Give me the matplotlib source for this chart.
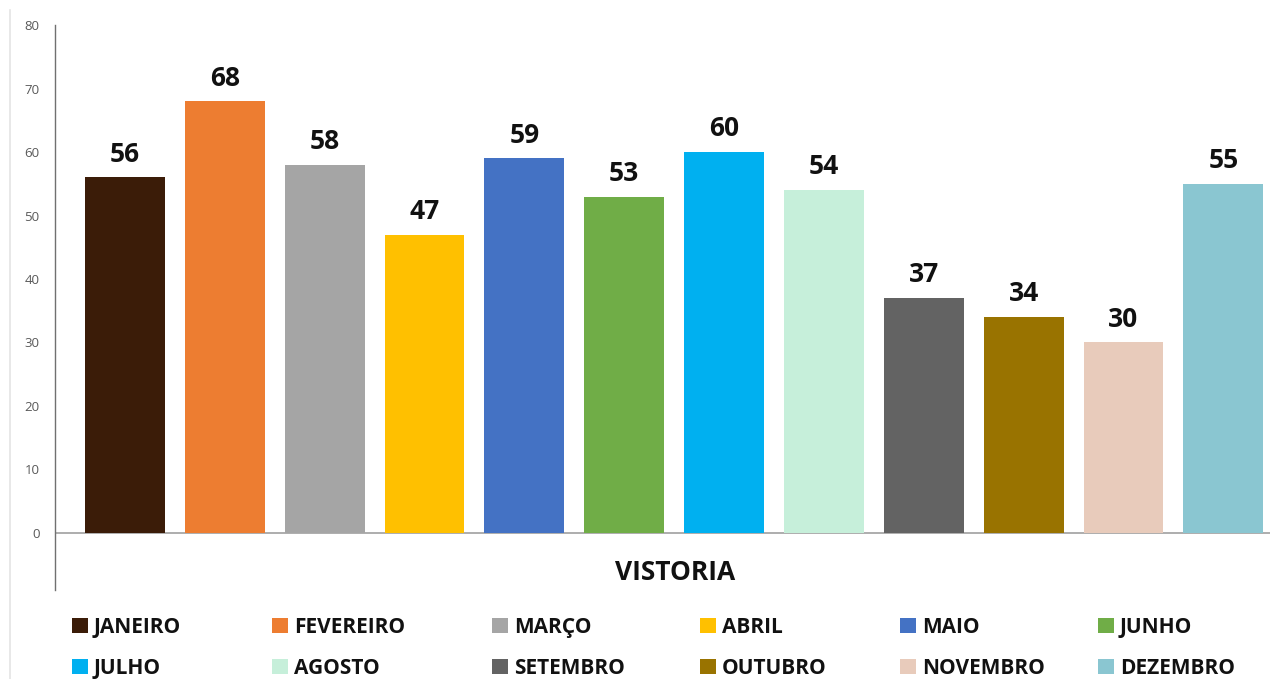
import matplotlib.pyplot as plt
from matplotlib.patches import Patch
from matplotlib.lines import Line2D

months = ["JANEIRO", "FEVEREIRO", "MARÇO", "ABRIL", "MAIO", "JUNHO",
          "JULHO", "AGOSTO", "SETEMBRO", "OUTUBRO", "NOVEMBRO", "DEZEMBRO"]
values = [56, 68, 58, 47, 59, 53, 60, 54, 37, 34, 30, 55]
colors = ["#3B1C08", "#ED7D31", "#A5A5A5", "#FFC000", "#4472C4", "#70AD47",
          "#00B0F0", "#C6EFDA", "#636363", "#997300", "#E8CBBB", "#8AC6D1"]
yticks = [0, 10, 20, 30, 40, 50, 60, 70, 80]

plt.rcParams["font.family"] = ["Open Sans", "DejaVu Sans"]

W, H = 1282, 679
fig = plt.figure(figsize=(W / 100, H / 100), dpi=100)
ax = fig.add_axes([0.0429, 0.131, 0.948, 0.832])

x = range(len(months))
bars = ax.bar(x, values, width=0.8, color=colors, zorder=2)
for b, v in zip(bars, values):
    ax.annotate(str(v), (b.get_x() + b.get_width() / 2, v),
                xytext=(0, 7), textcoords="offset points",
                ha="center", va="bottom", fontsize=19, fontweight="bold",
                color="#111111")

ax.axhline(0, color="#A0A0A0", linewidth=1.2, zorder=1)
ax.set_xlim(-0.7, 11.47)
ax.set_ylim(-9, 80)
ax.set_yticks(yticks)
ax.set_xticks([])
ax.tick_params(axis="y", length=0, pad=11, labelsize=9.5, labelcolor="#595959")
for s in ["top", "right", "bottom"]:
    ax.spines[s].set_visible(False)
ax.spines["left"].set_color("#707070")
ax.spines["left"].set_linewidth(1)

fig.text(0.527, 1 - 573 / H, "VISTORIA", ha="center", va="center",
         fontsize=19, fontweight="bold", color="#111111")

# faint frame line at the far left
fig.add_artist(Line2D([0.008, 0.008], [0.0, 0.985], transform=fig.transFigure,
                      color="#E4E4E4", linewidth=1.2))

# legend: two rows, six columns (one small legend per column)
col_left = [72, 272, 492, 700, 900, 1098]
for j in range(6):
    handles = [Patch(facecolor=colors[k], label=months[k]) for k in (j, j + 6)]
    leg = fig.legend(handles=handles, loc="upper left",
                     bbox_to_anchor=(col_left[j] / W, 1 - 617 / H),
                     frameon=False, handlelength=0.75, handleheight=0.75,
                     handletextpad=0.3, labelspacing=0.95, borderaxespad=0,
                     borderpad=0, prop={"size": 15, "weight": "bold"})
    for t in leg.get_texts():
        t.set_color("#111111")

fig.savefig("out.png", dpi=100)
